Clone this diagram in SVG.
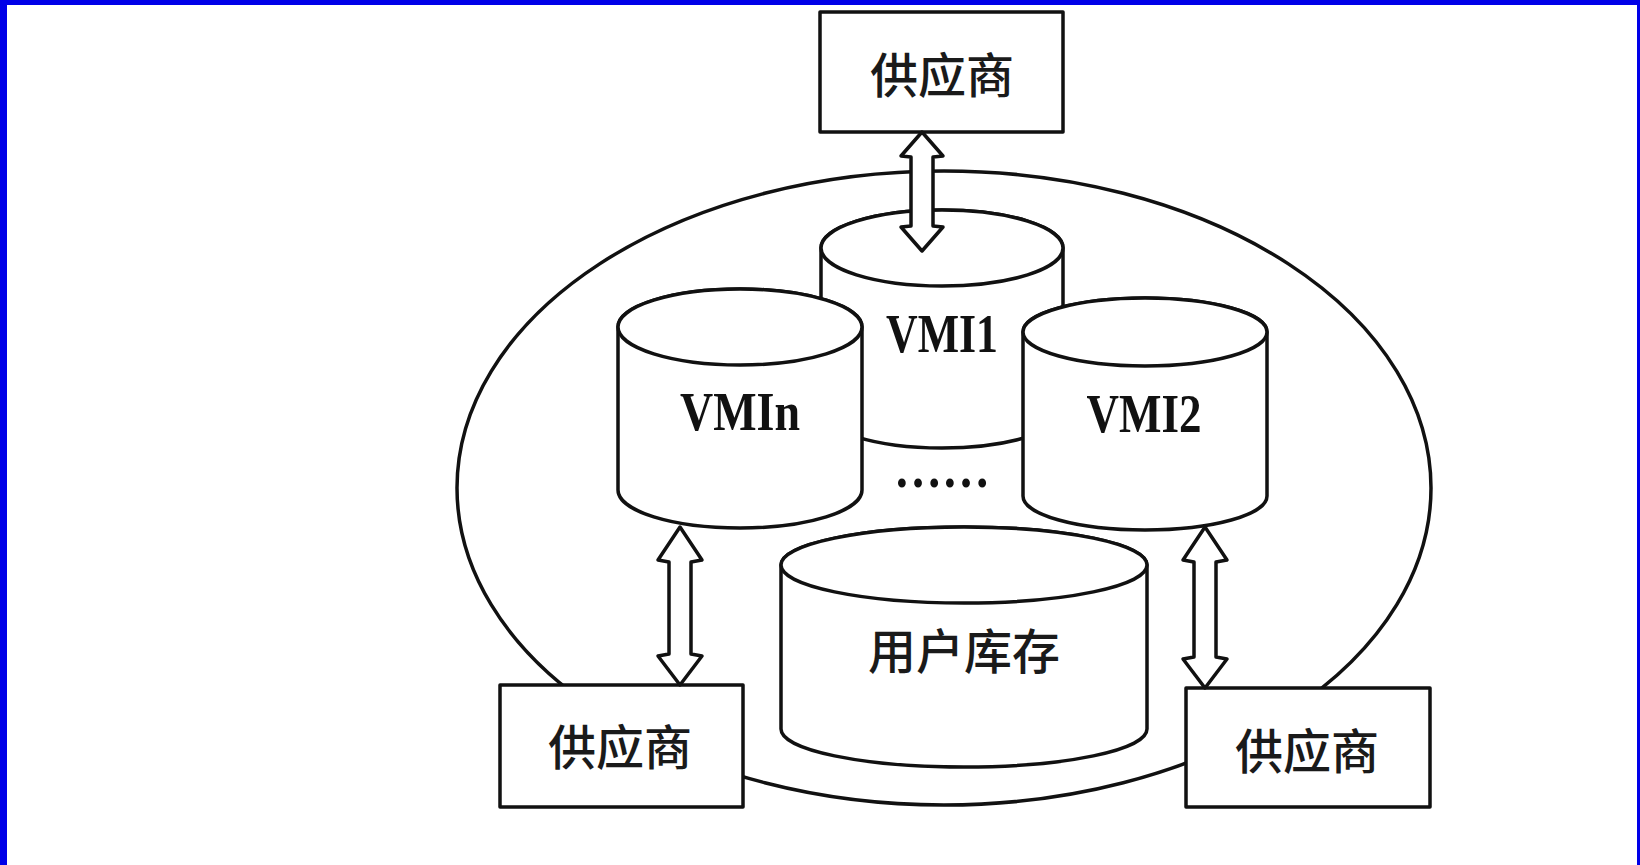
<svg xmlns="http://www.w3.org/2000/svg" width="1640" height="865" viewBox="0 0 1640 865">
  <style>
    .ln { fill: #fff; stroke: #111; stroke-width: 3.5; stroke-linejoin: round; }
    .cn { font-family: "Noto Sans CJK SC", "Noto Sans", sans-serif; font-size: 48px; font-weight: 500; fill: #1a1a1a; text-anchor: middle; }
    .vm { font-family: "Liberation Serif", "Times New Roman", serif; font-weight: bold; font-size: 54px; fill: #111; text-anchor: middle; }
  </style>

  <!-- page -->
  <rect x="0" y="0" width="1640" height="865" fill="#fff"/>
  <rect x="0" y="0" width="1640" height="5" fill="#0000e8"/>
  <rect x="0" y="0" width="7" height="865" fill="#0000e8"/>
  <rect x="1637" y="0" width="3" height="865" fill="#0000e8"/>

  <!-- enclosing ellipse -->
  <g id="boundary">
    <ellipse class="ln" cx="944" cy="488" rx="487" ry="317"/>
  </g>

  <!-- cylinders: VMI1 sits behind VMIn and VMI2 -->
  <g id="vmi1">
    <path class="ln" d="M821,248 L821,410 A121,38 0 0 0 1063,410 L1063,248 A121,38 0 0 0 821,248 Z"/>
    <ellipse class="ln" cx="942" cy="248" rx="121" ry="38"/>
    <text class="vm" x="942" y="352" textLength="112" lengthAdjust="spacingAndGlyphs">VMI1</text>
  </g>

  <g id="vmin">
    <path class="ln" d="M618,327 L618,490 A122,38 0 0 0 862,490 L862,327 A122,38 0 0 0 618,327 Z"/>
    <ellipse class="ln" cx="740" cy="327" rx="122" ry="38"/>
    <text class="vm" x="740" y="430" textLength="120" lengthAdjust="spacingAndGlyphs">VMIn</text>
  </g>

  <g id="vmi2">
    <path class="ln" d="M1023,332 L1023,496 A122,34 0 0 0 1267,496 L1267,332 A122,34 0 0 0 1023,332 Z"/>
    <ellipse class="ln" cx="1145" cy="332" rx="122" ry="34"/>
    <text class="vm" x="1144" y="432" textLength="115" lengthAdjust="spacingAndGlyphs">VMI2</text>
  </g>

  <g id="more">
    <text class="vm" x="942" y="487" font-size="50" textLength="96" lengthAdjust="spacingAndGlyphs">……</text>
  </g>

  <g id="user-stock">
    <path class="ln" d="M781,565 L781,729 A183,38 0 0 0 1147,729 L1147,565 A183,38 0 0 0 781,565 Z"/>
    <ellipse class="ln" cx="964" cy="565" rx="183" ry="38"/>
    <text class="cn" x="964" y="669">用户库存</text>
  </g>

  <!-- suppliers -->
  <g id="supplier-top">
    <rect class="ln" x="820" y="12" width="243" height="120"/>
    <text class="cn" x="942" y="93">供应商</text>
  </g>

  <g id="supplier-left">
    <rect class="ln" x="500" y="685" width="243" height="122"/>
    <text class="cn" x="620" y="765">供应商</text>
  </g>

  <g id="supplier-right">
    <rect class="ln" x="1186" y="688" width="244" height="119"/>
    <text class="cn" x="1307" y="769">供应商</text>
  </g>

  <!-- two-way hollow arrows -->
  <g id="connectors">
    <path class="ln" d="M922,132 L943,156 L933,157 L933,226 L943,227 L922,251 L901,227 L911,226 L911,157 L901,156 Z"/>
    <path class="ln" d="M680,527 L702,560 L691,562 L691,654 L702,656 L680,685 L658,656 L669,654 L669,562 L658,560 Z"/>
    <path class="ln" d="M1205,527 L1227,560 L1216,562 L1216,657 L1227,659 L1205,688 L1183,659 L1194,657 L1194,562 L1183,560 Z"/>
  </g>
</svg>
